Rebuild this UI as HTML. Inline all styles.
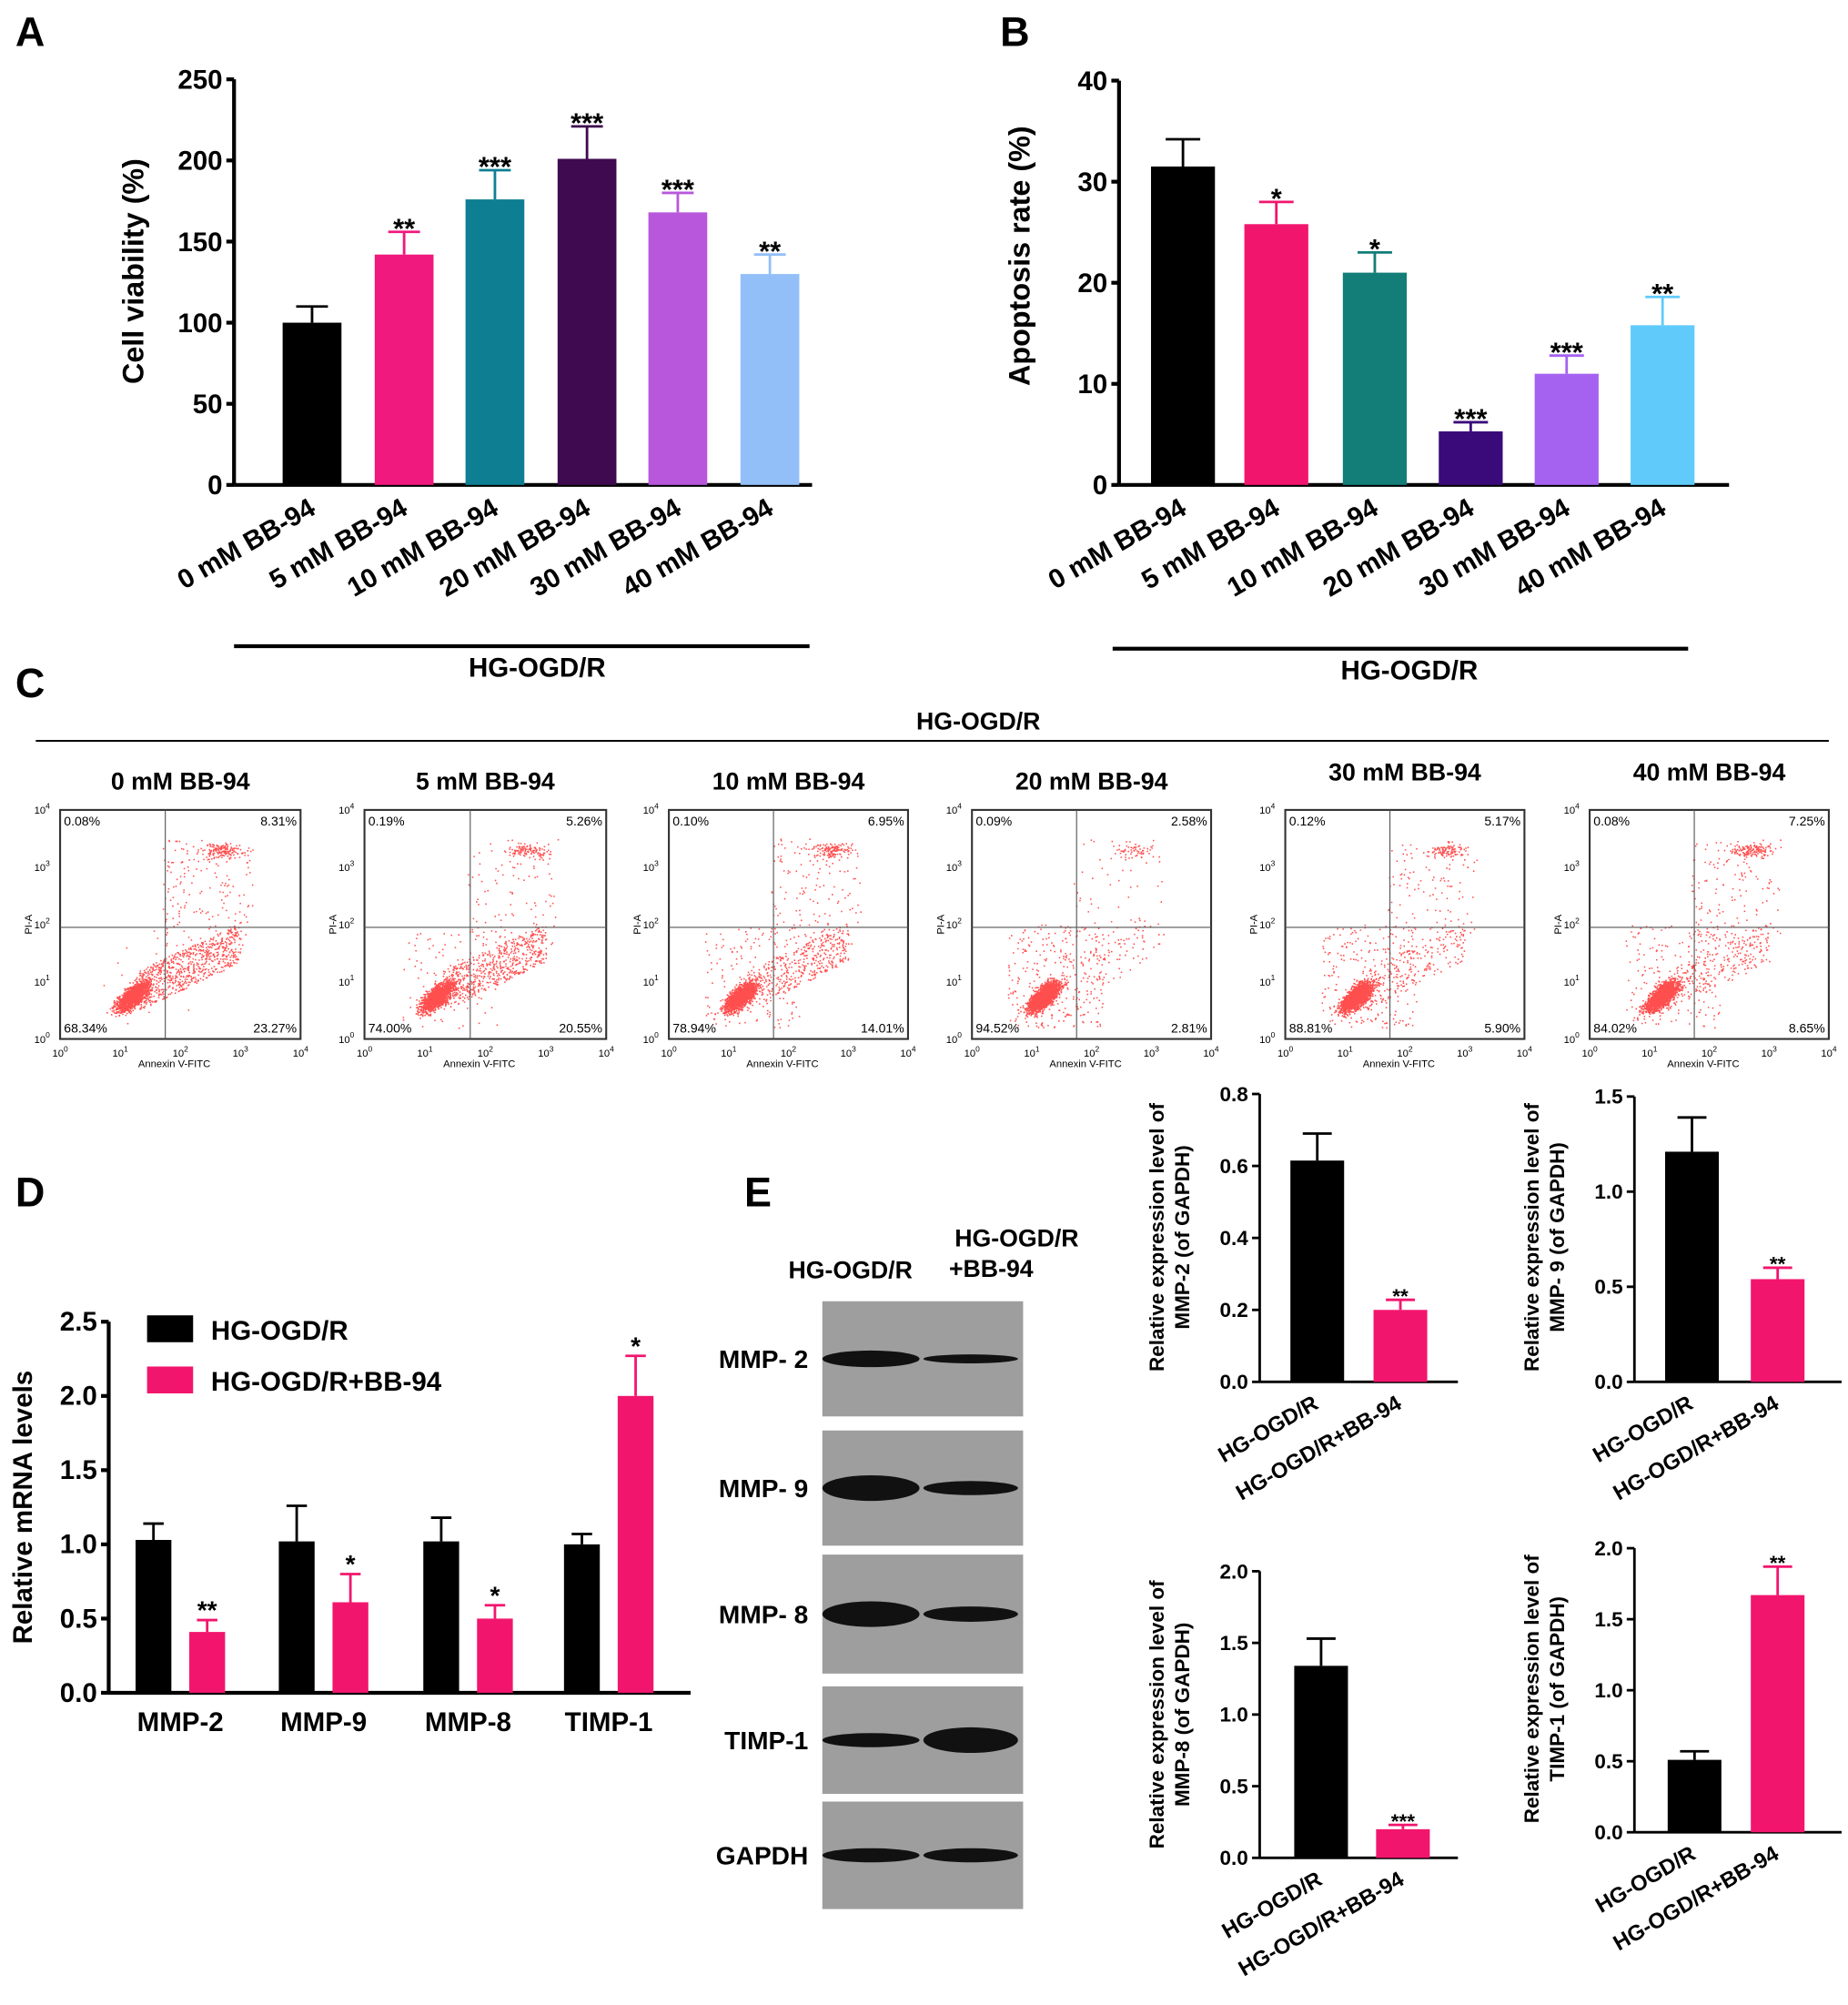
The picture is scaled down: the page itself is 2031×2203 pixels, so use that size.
<!DOCTYPE html>
<html><head><meta charset="utf-8"><style>
html,body{margin:0;padding:0;background:#fff}
svg{display:block}
text{font-family:"Liberation Sans",Arial,sans-serif;font-weight:bold;fill:#000}
</style></head><body>
<svg id="fig" width="2031" height="2203" viewBox="0 0 1445 1567" preserveAspectRatio="none" xmlns="http://www.w3.org/2000/svg">
<g id="root"></g>
</svg>
<script>
// ---- Panel A data ----
const aCats=["0 mM BB-94","5 mM BB-94","10 mM BB-94","20 mM BB-94","30 mM BB-94","40 mM BB-94"];
const aVals=[100,142,176,201,168,130];
const aErr=[10,14,18,20,12,12];
const aStars=["","**","***","***","***","**"];
const aTicks=[0,50,100,150,200,250];
// ---- Panel B data ----
const bVals=[31.5,25.8,21,5.3,11,15.8];
const bErr=[2.7,2.2,2,0.9,1.8,2.8];
const bStars=["","*","*","***","***","**"];
const bTicks=[0,10,20,30,40];
// ---- Panel D data ----
const dCats=["MMP-2","MMP-9","MMP-8","TIMP-1"];
const dCtrl=[1.03,1.02,1.02,1.0];
const dCtrlErr=[0.11,0.24,0.16,0.07];
const dTrt=[0.41,0.61,0.5,2.0];
const dTrtErr=[0.08,0.19,0.09,0.27];
const dStars=["**","*","*","*"];
const dTicks=[0,0.5,1.0,1.5,2.0,2.5];
// ---- Panel E small charts ----
const eGroups=["HG-OGD/R","HG-OGD/R+BB-94"];
const eMMP2=[0.615,0.2], eMMP2Err=[0.075,0.028];
const eMMP9=[1.21,0.54], eMMP9Err=[0.18,0.06];
const eMMP8=[1.34,0.2], eMMP8Err=[0.19,0.03];
const eTIMP=[0.51,1.67], eTIMPErr=[0.06,0.2];
// ---- Panel C flow data ----
const cTitles=["0 mM BB-94","5 mM BB-94","10 mM BB-94","20 mM BB-94","30 mM BB-94","40 mM BB-94"];
const cUL=["0.08%","0.19%","0.10%","0.09%","0.12%","0.08%"];
const cUR=["8.31%","5.26%","6.95%","2.58%","5.17%","7.25%"];
const cLL=["68.34%","74.00%","78.94%","94.52%","88.81%","84.02%"];
const cLR=["23.27%","20.55%","14.01%","2.81%","5.90%","8.65%"];

const NS="http://www.w3.org/2000/svg";
const root=document.getElementById('root');
function el(tag,attrs,parent,txt){const e=document.createElementNS(NS,tag);for(const k in attrs)e.setAttribute(k,attrs[k]);if(txt!==undefined)e.textContent=txt;(parent||root).appendChild(e);return e;}
function grp(name){const g=el('g',{});return g;}
function fmt(v,d){return v.toFixed(d);}

function barChart(o){
  const g=grp(o.name);
  const ys=v=>o.y0-(v/o.max)*(o.y0-o.yTop);
  el('line',{x1:o.x0,y1:o.yTop,x2:o.x0,y2:o.y0,stroke:'#000','stroke-width':o.sw},g);
  el('line',{x1:o.x0,y1:o.y0,x2:o.x1,y2:o.y0,stroke:'#000','stroke-width':o.sw},g);
  o.ticks.forEach(t=>{const y=ys(t);
    el('line',{x1:o.x0-6,y1:y,x2:o.x0,y2:y,stroke:'#000','stroke-width':o.sw},g);
    const tx=el('text',{x:o.x0-9,y:y+o.fs*0.35,'text-anchor':'end','font-size':o.fs},g,fmt(t,o.dec));
    });
  o.vals.forEach((v,i)=>{const cx=o.cx[i],w=o.bw;
    const r=el('rect',{x:cx-w/2,y:ys(v),width:w,height:o.y0-ys(v),fill:o.colors[i]},g);
    
    const ey=ys(v+o.err[i]);
    el('line',{x1:cx,y1:ys(v),x2:cx,y2:ey,stroke:o.colors[i],'stroke-width':2},g);
    el('line',{x1:cx-w*0.27,y1:ey,x2:cx+w*0.27,y2:ey,stroke:o.colors[i],'stroke-width':2},g);
    if(o.stars&&o.stars[i]){const s=el('text',{x:cx,y:ey-3+o.sfs*0.35,'text-anchor':'middle','font-size':o.sfs},g,o.stars[i]);
      }
    if(o.labels){const lx=cx+o.lx,ly=o.y0+o.ly;
      const t=el('text',{x:lx,y:ly,'text-anchor':'end','font-size':o.lfs,transform:`rotate(${o.rot} ${lx} ${ly})`},g,o.labels[i]);
      }
  });
  if(o.ytitle){o.ytitle.forEach((line,k)=>{const x=o.tx+k*o.tlh,y=o.ty;
    const t=el('text',{x:x,y:y,'text-anchor':'middle','font-size':o.tfs,transform:`rotate(-90 ${x} ${y})`},g,line);
    });}
  return g;
}
function letter(t,x,y){const e=el('text',{x:x,y:y,'font-size':32},root,t);}

letter('A',12,36);letter('B',782,36);letter('C',12,545);letter('D',12,943);letter('E',582,943);

// Panel A
barChart({name:'panel-a-chart',x0:183,x1:635,y0:379,yTop:62,max:250,sw:3,ticks:aTicks,dec:0,fs:21,
 vals:aVals,err:aErr,cx:[244,316,387,459,530,602],bw:46,colors:['#000','#f0197d','#0e7f93','#3f0a4f','#b857dc','#93bff8'],
 stars:aStars,sfs:22,labels:aCats,lx:4,ly:22,rot:-30,lfs:21,ytitle:['Cell viability (%)'],tx:112,ty:212,tfs:23,tlh:0});
let l1=el('line',{x1:183,y1:505,x2:633,y2:505,stroke:'#000','stroke-width':3});
let t1=el('text',{x:420,y:529,'text-anchor':'middle','font-size':21},root,'HG-OGD/R');

// Panel B
barChart({name:'panel-b-chart',x0:875,x1:1352,y0:379,yTop:63,max:40,sw:3,ticks:bTicks,dec:0,fs:21,
 vals:bVals,err:bErr,cx:[925,998,1075,1150,1225,1300],bw:50,colors:['#000','#f2156e','#137d78','#3a0a7a','#a562f0','#60cbfb'],
 stars:bStars,sfs:22,labels:aCats,lx:4,ly:22,rot:-30,lfs:21,ytitle:['Apoptosis rate (%)'],tx:805,ty:200,tfs:23,tlh:0});
let l2=el('line',{x1:870,y1:507,x2:1320,y2:507,stroke:'#000','stroke-width':3});
let t2=el('text',{x:1102,y:531,'text-anchor':'middle','font-size':21},root,'HG-OGD/R');

// Panel C
let t3=el('text',{x:765,y:570,'text-anchor':'middle','font-size':19},root,'HG-OGD/R');
let l3=el('line',{x1:28,y1:579,x2:1430,y2:579,stroke:'#000','stroke-width':1.5});
const boxes=[[47,235],[285,474],[523,710],[760,947],[1005,1192],[1243,1430]];
let seed=7;function rnd(){seed=(seed*16807)%2147483647;return seed/2147483647;}
function gauss(){return (rnd()+rnd()+rnd()+rnd()-2)*0.87;}
boxes.forEach((b,i)=>{
  const g=grp('flow-plot-'+i);
  const x0=b[0],x1=b[1],yT=633,yB=812,w=x1-x0,h=yB-yT;
  const tt=el('text',{x:(x0+x1)/2,y:i>=4?610:617,'text-anchor':'middle','font-size':19},g,cTitles[i]);
  
  const xs=d=>x0+d/4*w, ys=d=>yB-d/4*h;
  const ll=parseFloat(cLL[i]),lr=parseFloat(cLR[i]),ur=parseFloat(cUR[i]);
  let s='';
  const N=2600;
  for(let k=0;k<N;k++){const p=rnd()*100;let dx,dy;
    if(p<ll*0.85){dy=0.75+gauss()*0.25;dx=1.2+gauss()*0.18+(dy-0.75)*0.7;}
    else if(p<ll*0.85+lr*1.2){dx=1.3+rnd()*1.7;dy=0.5+rnd()*0.7+(dx-1.3)*0.5;}
    else if(p<ll*0.85+lr*1.2+ur*1.6){if(rnd()<0.5){dx=2.7+gauss()*0.35;dy=3.3+gauss()*0.12;}else{dx=1.7+rnd()*1.5;dy=1.6+rnd()*1.9;}}
    else{dx=0.6+rnd()*1.6;dy=0.2+rnd()*1.8;}
    dx=Math.max(0.02,Math.min(3.98,dx));dy=Math.max(0.02,Math.min(3.98,dy));
    s+=`M${xs(dx).toFixed(1)} ${ys(dy).toFixed(1)}h1.1v1.1h-1.1z`;}
  const pd=el('path',{d:s,fill:'#f22','fill-opacity':0.8},g);
  const r=el('rect',{x:x0,y:yT,width:w,height:h,fill:'none',stroke:'#333','stroke-width':1.5},g);
  
  el('line',{x1:xs(1.75),y1:yT,x2:xs(1.75),y2:yB,stroke:'#555','stroke-width':0.8},g);
  el('line',{x1:x0,y1:ys(1.95),x2:x1,y2:ys(1.95),stroke:'#555','stroke-width':0.8},g);
  [[cUL[i],x0+3,yT+12,'start'],[cUR[i],x1-3,yT+12,'end'],[cLL[i],x0+3,yB-5,'start'],[cLR[i],x1-3,yB-5,'end']].forEach(q=>{
    const t=el('text',{x:q[1],y:q[2],'text-anchor':q[3],'font-size':10,style:'font-weight:normal'},g,q[0]);
    });
  for(let d=0;d<=4;d++){
    const a=el('text',{x:xs(d),y:yB+14,'text-anchor':'middle','font-size':8,style:'font-weight:normal'},g,'10');
    el('tspan',{dy:-4,'font-size':6},a,''+d);
    const c=el('text',{x:x0-8,y:ys(d)+3,'text-anchor':'end','font-size':8,style:'font-weight:normal'},g,'10');
    el('tspan',{dy:-4,'font-size':6},c,''+d);}
  const ax=el('text',{x:xs(1.9),y:yB+22,'text-anchor':'middle','font-size':8,style:'font-weight:normal'},g,'Annexin V-FITC');
  
  const ay=el('text',{x:x0-22,y:ys(2),'text-anchor':'middle','font-size':8,style:'font-weight:normal',transform:`rotate(-90 ${x0-22} ${ys(2)})`},g,'PI-A');
  
});

// Panel D
(function(){
  const g=grp('panel-d-chart');
  const x0=85,x1=540,y0=1323,yT=1033,max=2.5;const ys=v=>y0-v/max*(y0-yT);
  el('line',{x1:x0,y1:yT,x2:x0,y2:y0,stroke:'#000','stroke-width':3},g);
  el('line',{x1:x0,y1:y0,x2:x1,y2:y0,stroke:'#000','stroke-width':3},g);
  dTicks.forEach(t=>{const y=ys(t);el('line',{x1:x0-6,y1:y,x2:x0,y2:y,stroke:'#000','stroke-width':3},g);
    const tx=el('text',{x:x0-9,y:y+7,'text-anchor':'end','font-size':21},g,t.toFixed(1));});
  const cc=[120,232,345,455],w=28,off=42;
  dCats.forEach((c,i)=>{
    [[dCtrl[i],dCtrlErr[i],'#000',cc[i]],[dTrt[i],dTrtErr[i],'#f2156e',cc[i]+off]].forEach((b,j)=>{
      const r=el('rect',{x:b[3]-w/2,y:ys(b[0]),width:w,height:y0-ys(b[0]),fill:b[2]},g);
      
      const ey=ys(b[0]+b[1]);el('line',{x1:b[3],y1:ys(b[0]),x2:b[3],y2:ey,stroke:b[2],'stroke-width':2},g);
      el('line',{x1:b[3]-8,y1:ey,x2:b[3]+8,y2:ey,stroke:b[2],'stroke-width':2},g);
      if(j){const s=el('text',{x:b[3],y:ey-1,'text-anchor':'middle','font-size':20},g,dStars[i]);}
    });
    const t=el('text',{x:cc[i]+off/2,y:y0+30,'text-anchor':'middle','font-size':21},g,c);
  });
  const yt=el('text',{x:25,y:1178,'text-anchor':'middle','font-size':21,transform:'rotate(-90 25 1178)'},g,'Relative mRNA levels');
  
  const lg=grp('legend');
  el('rect',{x:115,y:1028,width:36,height:21,fill:'#000'},lg);
  el('text',{x:165,y:1047,'font-size':21},lg,'HG-OGD/R');
  el('rect',{x:115,y:1068,width:36,height:21,fill:'#f2156e'},lg);
  el('text',{x:165,y:1087,'font-size':21},lg,'HG-OGD/R+BB-94');
})();

// Panel E blot
(function(){
  const g=grp('western-blot');
  el('text',{x:665,y:999,'text-anchor':'middle','font-size':19},g,'HG-OGD/R');
  el('text',{x:795,y:974,'text-anchor':'middle','font-size':19},g,'HG-OGD/R');
  el('text',{x:775,y:998,'text-anchor':'middle','font-size':19},g,'+BB-94');
  const rows=[['MMP- 2',1017,1107,13,7],['MMP- 9',1118,1208,20,11],['MMP- 8',1215,1308,20,12],['TIMP-1',1318,1402,11,20],['GAPDH',1408,1492,11,11]];
  rows.forEach(r=>{
    el('rect',{x:643,y:r[1],width:157,height:r[2]-r[1],fill:'#9e9e9e'},g);
    const cy=(r[1]+r[2])/2;
    el('ellipse',{cx:681,cy:cy,rx:38,ry:r[3]/2,fill:'#111'},g);
    el('ellipse',{cx:759,cy:cy,rx:37,ry:r[4]/2,fill:'#111'},g);
    const t=el('text',{x:632,y:cy+7,'text-anchor':'end','font-size':20},g,r[0]);
    
  });
})();

// Panel E small bar charts
const small=[
 {name:'mmp2-protein-chart',x0:985,x1:1140,y0:1080,yTop:855,max:0.8,ticks:[0,0.2,0.4,0.6,0.8],vals:eMMP2,err:eMMP2Err,cx:[1030,1095],stars:["","**"],t:['Relative expression level of','MMP-2 (of GAPDH)'],tx:910,ty:967},
 {name:'mmp9-protein-chart',x0:1278,x1:1440,y0:1080,yTop:857,max:1.5,ticks:[0,0.5,1.0,1.5],vals:eMMP9,err:eMMP9Err,cx:[1323,1390],stars:["","**"],t:['Relative expression level of','MMP- 9 (of GAPDH)'],tx:1203,ty:967},
 {name:'mmp8-protein-chart',x0:985,x1:1140,y0:1452,yTop:1228,max:2.0,ticks:[0,0.5,1.0,1.5,2.0],vals:eMMP8,err:eMMP8Err,cx:[1033,1097],stars:["","***"],t:['Relative expression level of','MMP-8 (of GAPDH)'],tx:910,ty:1340},
 {name:'timp1-protein-chart',x0:1278,x1:1440,y0:1432,yTop:1210,max:2.0,ticks:[0,0.5,1.0,1.5,2.0],vals:eTIMP,err:eTIMPErr,cx:[1325,1390],stars:["","**"],t:['Relative expression level of','TIMP-1 (of GAPDH)'],tx:1203,ty:1320}
];
small.forEach(s=>{
  barChart({name:s.name,x0:s.x0,x1:s.x1,y0:s.y0,yTop:s.yTop,max:s.max,sw:2,ticks:s.ticks,dec:1,fs:16,
   vals:s.vals,err:s.err,cx:s.cx,bw:42,colors:['#000','#f2156e'],stars:s.stars,sfs:16,
   labels:eGroups,lx:2,ly:20,rot:-30,lfs:17,ytitle:s.t,tx:s.tx,ty:s.ty,tfs:16,tlh:20});
});
</script>
</body></html>
